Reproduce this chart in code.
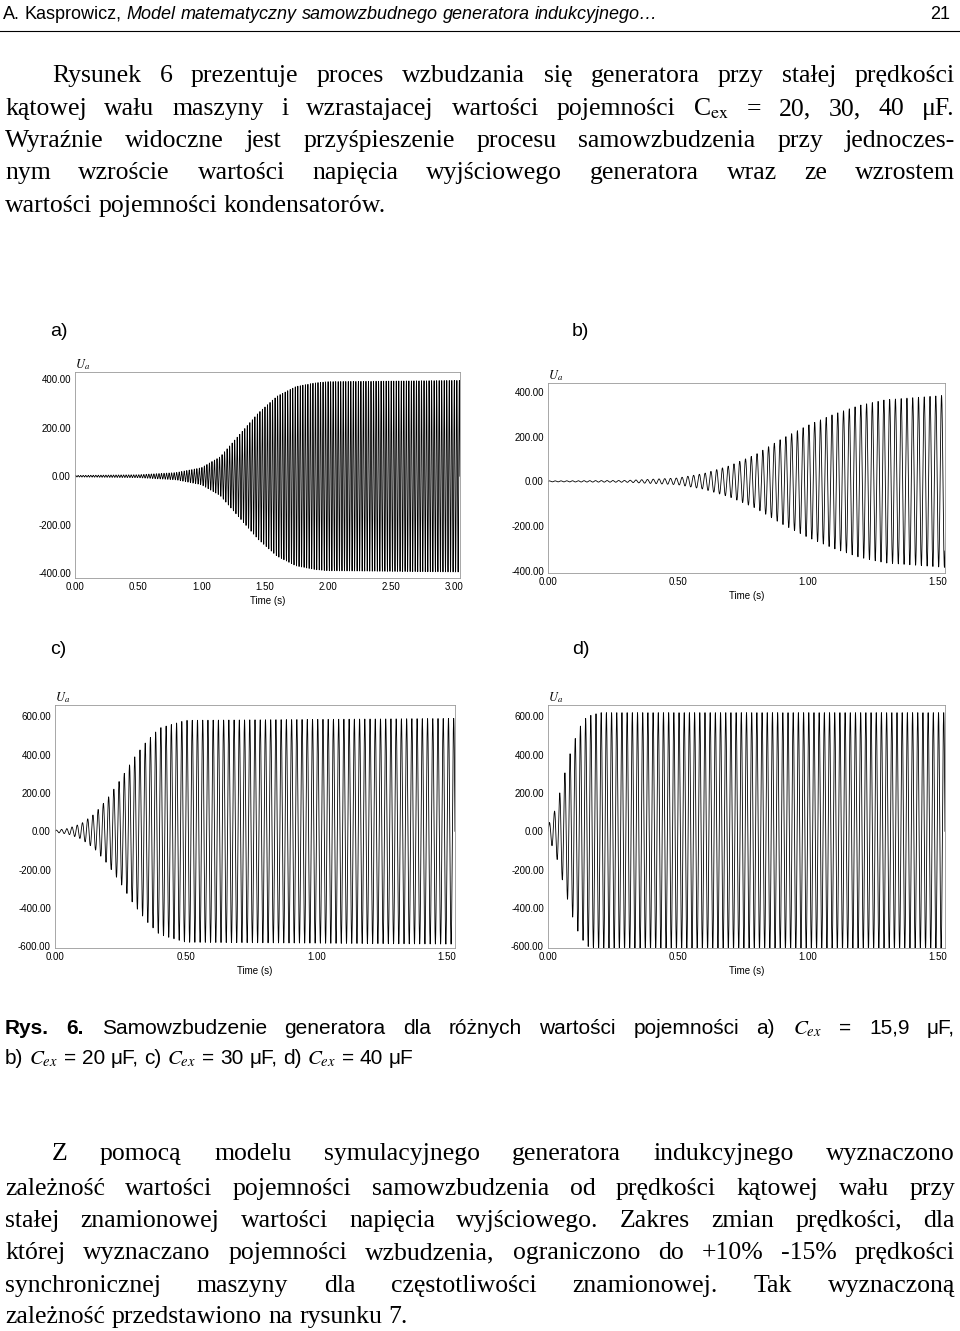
import numpy as np, pandas as pd, matplotlib
matplotlib.use("Agg")
import matplotlib.pyplot as plt, seaborn as sns

W, H = 960, 1331
plt.rcParams["mathtext.fontset"] = "stix"
fig = plt.figure(figsize=(W/100, H/100), dpi=100)
fig.patch.set_facecolor("white")

# ---- data ----
env_a_t = [0, 0.5, 0.8, 1.0, 1.15, 1.3, 1.45, 1.6, 1.75, 1.9, 2.0, 3.0]
env_a_v = [3, 6, 15, 35, 80, 170, 260, 330, 370, 385, 390, 395]
env_b_t = [0, 0.3, 0.5, 0.6, 0.7, 0.8, 0.9, 1.0, 1.1, 1.2, 1.3, 1.53]
env_b_v = [2, 4, 15, 35, 70, 120, 190, 250, 300, 340, 365, 385]
env_c_t = [0, 0.05, 0.1, 0.15, 0.2, 0.25, 0.3, 0.35, 0.4, 0.5, 1.53]
env_c_v = [5, 15, 40, 90, 170, 270, 380, 470, 540, 580, 590]
env_d_t = [0, 0.03, 0.06, 0.09, 0.12, 0.15, 0.2, 1.53]
env_d_v = [30, 120, 280, 430, 540, 600, 620, 620]
freq_hz = [50, 45, 50, 50]
xticks_a = [0, 0.5, 1.0, 1.5, 2.0, 2.5, 3.0]
xticks_bcd = [0, 0.5, 1.0, 1.5]
yticks_ab = [-400, -200, 0, 200, 400]
yticks_cd = [-600, -400, -200, 0, 200, 400, 600]

def fy(y): return 1 - y / H
def fx(x): return x / W

def add_panel(l, r, t, b, et, ev, f, xmax, ylim, xt, yt):
    ax = fig.add_axes([fx(l), fy(b), fx(r) - fx(l), (b - t) / H])
    tt = np.linspace(0, xmax, 12000)
    env = np.interp(tt, et, ev)
    df = pd.DataFrame({"t": tt, "u": env * np.sin(2 * np.pi * f * tt)})
    sns.lineplot(data=df, x="t", y="u", ax=ax, color="black", lw=0.6, estimator=None)
    ax.set_xlim(0, xmax); ax.set_ylim(*ylim)
    ax.set_xticks(xt); ax.set_xticklabels([f"{v:.2f}" for v in xt], fontsize=7, family="Liberation Sans")
    ax.set_yticks(yt); ax.set_yticklabels([f"{v:.2f}" for v in yt], fontsize=7, family="Liberation Sans")
    ax.tick_params(length=0, pad=3)
    ax.set_xlabel("Time (s)", fontsize=7, family="Liberation Sans", labelpad=3)
    ax.set_ylabel("")
    for s in ax.spines.values():
        s.set_color("#999999"); s.set_linewidth(0.6)
    ax.text(0.0, 1.0, "$U_a$", transform=ax.transAxes, fontsize=9, ha="left", va="bottom")
    return ax

add_panel(75, 460, 372, 578, env_a_t, env_a_v, freq_hz[0], 3.05, (-420, 430), xticks_a, yticks_ab)
add_panel(548, 945, 383, 573, env_b_t, env_b_v, freq_hz[1], 1.53, (-410, 440), xticks_bcd, yticks_ab)
add_panel(55, 455, 705, 948, env_c_t, env_c_v, freq_hz[2], 1.53, (-610, 660), xticks_bcd, yticks_cd)
add_panel(548, 945, 705, 948, env_d_t, env_d_v, freq_hz[3], 1.53, (-610, 660), xticks_bcd, yticks_cd)

for lab, x, y in [("a)", 50, 336), ("b)", 572, 336), ("c)", 50, 654), ("d)", 572, 654)]:
    fig.text(fx(x), fy(y), lab, fontsize=14, family="Liberation Sans", va="baseline")

# ---- text ----
fig.canvas.draw()
R = fig.canvas.get_renderer()

def line(y, words, x0, x1, size, family, justify=True):
    items = []
    for w in words:
        kw = {}
        if isinstance(w, tuple):
            w, kw = w
        t = fig.text(0, fy(y), w, fontsize=size, family=family, va="baseline", **kw)
        items.append(t)
    widths = [t.get_window_extent(R).width for t in items]
    a = fig.text(0, 0, "a a", fontsize=size, family=family)
    b = fig.text(0, 0, "aa", fontsize=size, family=family)
    sp = a.get_window_extent(R).width - b.get_window_extent(R).width
    a.remove(); b.remove()
    gap = (x1 - x0 - sum(widths)) / max(len(items) - 1, 1) if justify else sp
    x = x0
    for t, w in zip(items, widths):
        t.set_x(fx(x)); x += w + gap

SER, SZ = "Liberation Serif", 18.5
top = [
 (82, "Rysunek 6 prezentuje proces wzbudzania się generatora przy stałej prędkości", 52, True),
 (115, "kątowej wału maszyny i wzrastajacej wartości pojemności C$_{\\mathrm{ex}}$ = 20, 30, 40 μF.", 5, True),
 (147, "Wyraźnie widoczne jest przyśpieszenie procesu samowzbudzenia przy jednoczes-", 5, True),
 (179, "nym wzroście wartości napięcia wyjściowego generatora wraz ze wzrostem", 5, True),
 (212, "wartości pojemności kondensatorów.", 5, False),
 (1160, "Z pomocą modelu symulacyjnego generatora indukcyjnego wyznaczono", 52, True),
 (1195, "zależność wartości pojemności samowzbudzenia od prędkości kątowej wału przy", 5, True),
 (1227, "stałej znamionowej wartości napięcia wyjściowego. Zakres zmian prędkości, dla", 5, True),
 (1259, "której wyznaczano pojemności wzbudzenia, ograniczono do +10% -15% prędkości", 5, True),
 (1292, "synchronicznej maszyny dla częstotliwości znamionowej. Tak wyznaczoną", 5, True),
 (1323, "zależność przedstawiono na rysunku 7.", 5, False),
]
for y, s, x0, j in top:
    line(y, s.split(" "), x0, 955, SZ, SER, j)

SANS = "Liberation Sans"
cap1 = [("Rys.", {"weight": "bold"}), ("6.", {"weight": "bold"}), "Samowzbudzenie", "generatora", "dla",
        "różnych", "wartości", "pojemności", "a)", "$C_{ex}$", "=", "15,9", "μF,"]
line(1034, cap1, 5, 955, 15, SANS, True)
cap2 = ["b)", "$C_{ex}$", "=", "20", "μF,", "c)", "$C_{ex}$", "=", "30", "μF,", "d)", "$C_{ex}$", "=", "40", "μF"]
line(1064, cap2, 5, 955, 15, SANS, False)

hdr = ["A.", "Kasprowicz,"] + [(w, {"style": "italic"}) for w in
       "Model matematyczny samowzbudnego generatora indukcyjnego…".split(" ")]
line(19, hdr, 3, 700, 13, SANS, False)
fig.text(fx(950), fy(19), "21", fontsize=13, family=SANS, ha="right", va="baseline")
fig.add_artist(plt.Line2D([0, 1], [fy(31), fy(31)], color="black", lw=0.8))

fig.savefig("out.png", dpi=100)
